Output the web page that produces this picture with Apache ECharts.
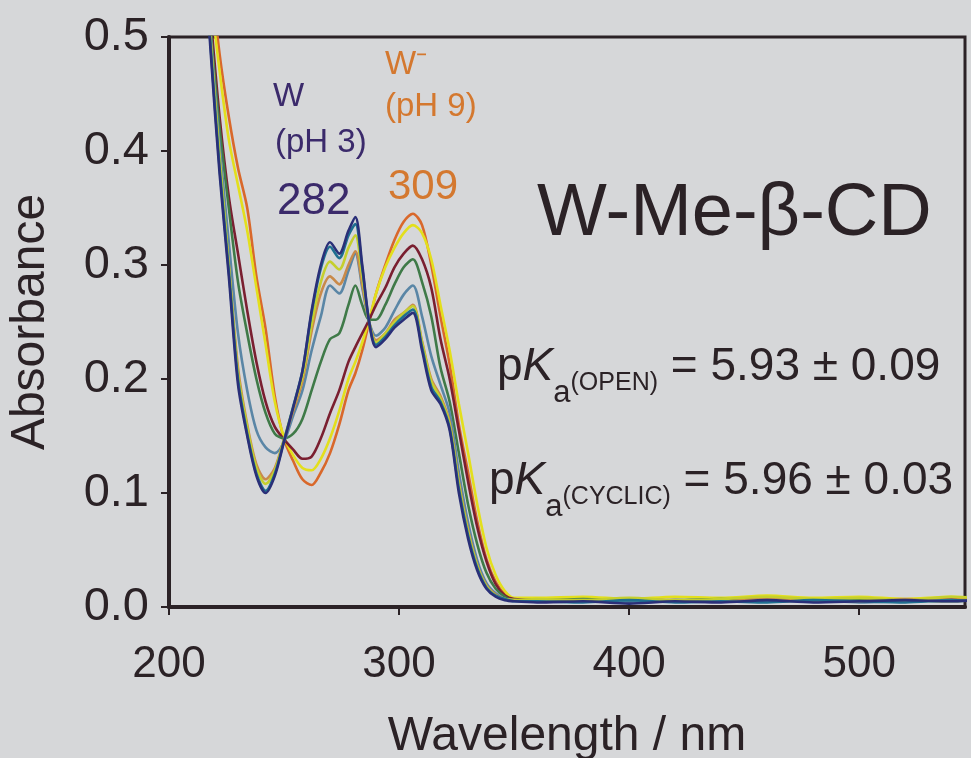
<!DOCTYPE html>
<html>
<head>
<meta charset="utf-8">
<script src="https://cdn.jsdelivr.net/npm/echarts@6/dist/echarts.min.js"></script>
<style>
  html, body { margin: 0; padding: 0; background: #d6d7d9; }
  #chart { width: 971px; height: 758px; }
</style>
</head>
<body>
<div id="chart"></div>
<script>
// wavelength grid (nm)
const wavelengths = [214, 218, 222, 226, 230, 234, 238, 242, 246, 250,
  254, 258, 262, 266, 270, 274, 278, 281, 284, 287, 290,
  294, 298, 302, 306, 310, 314, 318, 322, 326, 330,
  334, 338, 342, 346, 350,
  360, 380, 400, 420, 440, 460, 480, 500, 520, 540, 550]

// absorbance, one array per trace (acidic -> basic)
const navy = [0.62, 0.49, 0.38, 0.29, 0.195, 0.15, 0.115, 0.10, 0.115, 0.145,
  0.175, 0.207, 0.26, 0.30, 0.32, 0.31, 0.33, 0.342, 0.30, 0.25, 0.228,
  0.235, 0.245, 0.252, 0.258, 0.225, 0.19, 0.178, 0.155, 0.10, 0.06,
  0.032, 0.016, 0.009, 0.006, 0.005,
  0.004, 0.005, 0.003, 0.005, 0.004, 0.006, 0.004, 0.005, 0.006, 0.005, 0.006]
const teal = [0.62, 0.495, 0.385, 0.295, 0.2, 0.152, 0.117, 0.102, 0.117, 0.146,
  0.176, 0.207, 0.258, 0.297, 0.316, 0.306, 0.326, 0.336, 0.297, 0.25, 0.23,
  0.237, 0.247, 0.255, 0.261, 0.228, 0.193, 0.18, 0.157, 0.104, 0.063,
  0.034, 0.017, 0.01, 0.007, 0.005,
  0.005, 0.004, 0.006, 0.004, 0.005, 0.004, 0.006, 0.005, 0.004, 0.006, 0.005]
const yellowLow = [0.625, 0.50, 0.395, 0.30, 0.205, 0.158, 0.122, 0.108, 0.12, 0.147,
  0.175, 0.202, 0.248, 0.285, 0.303, 0.296, 0.315, 0.326, 0.29, 0.25, 0.232,
  0.24, 0.25, 0.258, 0.264, 0.232, 0.198, 0.183, 0.16, 0.108, 0.066,
  0.036, 0.018, 0.01, 0.007, 0.006,
  0.007, 0.006, 0.008, 0.006, 0.007, 0.009, 0.007, 0.008, 0.006, 0.009, 0.008]
const tanLow = [0.625, 0.50, 0.39, 0.30, 0.21, 0.16, 0.125, 0.112, 0.122, 0.147,
  0.172, 0.198, 0.242, 0.275, 0.29, 0.283, 0.30, 0.312, 0.283, 0.25, 0.234,
  0.24, 0.252, 0.258, 0.265, 0.233, 0.2, 0.185, 0.162, 0.11, 0.068,
  0.037, 0.019, 0.011, 0.007, 0.006,
  0.006, 0.005, 0.007, 0.006, 0.005, 0.007, 0.006, 0.005, 0.007, 0.006, 0.007]
const steel = [0.62, 0.505, 0.405, 0.32, 0.24, 0.19, 0.155, 0.14, 0.135, 0.145,
  0.168, 0.19, 0.225, 0.255, 0.282, 0.275, 0.295, 0.31, 0.28, 0.25, 0.238,
  0.245, 0.26, 0.274, 0.282, 0.255, 0.22, 0.195, 0.17, 0.118, 0.074,
  0.041, 0.021, 0.012, 0.007, 0.006,
  0.005, 0.006, 0.004, 0.006, 0.005, 0.005, 0.006, 0.004, 0.005, 0.006, 0.005]
const green = [0.62, 0.51, 0.42, 0.35, 0.285, 0.24, 0.2, 0.17, 0.152, 0.148,
  0.152, 0.165, 0.19, 0.215, 0.235, 0.24, 0.265, 0.282, 0.265, 0.252, 0.252,
  0.265, 0.283, 0.298, 0.305, 0.285, 0.255, 0.21, 0.18, 0.135, 0.09,
  0.055, 0.03, 0.016, 0.009, 0.006,
  0.006, 0.007, 0.005, 0.006, 0.007, 0.005, 0.006, 0.007, 0.006, 0.005, 0.006]
const maroon = [0.62, 0.52, 0.43, 0.36, 0.31, 0.26, 0.215, 0.18, 0.158, 0.147,
  0.138, 0.13, 0.132, 0.148, 0.17, 0.19, 0.215, 0.228, 0.24, 0.252, 0.265,
  0.28, 0.298, 0.31, 0.317, 0.305, 0.28, 0.235, 0.2, 0.155, 0.11,
  0.07, 0.04, 0.02, 0.01, 0.007,
  0.006, 0.005, 0.007, 0.005, 0.006, 0.006, 0.005, 0.007, 0.005, 0.006, 0.005]
const yellowHigh = [0.64, 0.54, 0.47, 0.41, 0.37, 0.33, 0.28, 0.23, 0.18, 0.149,
  0.133, 0.122, 0.12, 0.13, 0.148, 0.172, 0.20, 0.215, 0.232, 0.252, 0.275,
  0.298, 0.315, 0.328, 0.335, 0.328, 0.305, 0.265, 0.225, 0.178, 0.135,
  0.09, 0.052, 0.028, 0.014, 0.008,
  0.008, 0.009, 0.007, 0.009, 0.008, 0.01, 0.008, 0.009, 0.007, 0.009, 0.008]
const orangeHigh = [0.65, 0.56, 0.485, 0.43, 0.385, 0.35, 0.29, 0.244, 0.185, 0.147,
  0.128, 0.112, 0.107, 0.118, 0.135, 0.16, 0.19, 0.205, 0.225, 0.25, 0.275,
  0.30, 0.322, 0.338, 0.345, 0.335, 0.30, 0.255, 0.213, 0.16, 0.118,
  0.075, 0.042, 0.022, 0.011, 0.007,
  0.006, 0.007, 0.006, 0.005, 0.007, 0.006, 0.007, 0.006, 0.005, 0.007, 0.006]

const traces = [
  { name: 'pH 9', values: orangeHigh, color: '#d9682b' },
  { name: 'pH 8', values: yellowHigh, color: '#e3df1c' },
  { name: 'pH 7', values: maroon, color: '#7a1f30' },
  { name: 'pH 6', values: green, color: '#3f7a48' },
  { name: 'pH 5', values: steel, color: '#5a86a6' },
  { name: 'pH 4.5', values: tanLow, color: '#c98a4a' },
  { name: 'pH 4', values: yellowLow, color: '#c5cf2e' },
  { name: 'pH 3.5', values: teal, color: '#1f6f90' },
  { name: 'pH 3', values: navy, color: '#2a2f78' },
]

const xTicks = { min: 200, max: 546, interval: 100 }
const yTicks = { min: 0, max: 0.5, interval: 0.1 }

const font = '"Liberation Sans", Arial, sans-serif'
const ink = '#2b2226'

const chart = echarts.init(document.getElementById('chart'))

const pkaRich = {
  m: { fontFamily: font, fontSize: 46, lineHeight: 52, verticalAlign: 'top', fill: ink },
  k: { fontFamily: font, fontSize: 46, lineHeight: 52, fontStyle: 'italic', verticalAlign: 'top', fill: ink },
  s: { fontFamily: font, fontSize: 31, lineHeight: 31, padding: [34, 0, 0, 0], verticalAlign: 'top', fill: ink },
  c: { fontFamily: font, fontSize: 25, lineHeight: 25, padding: [27, 0, 0, 0], verticalAlign: 'top', fill: ink },
}

const option = {
  backgroundColor: '#d6d7d9',
  animation: false,
  grid: {
    left: 169, right: 6, top: 37, bottom: 151,
    outerBoundsMode: 'none',
    containLabel: false,
    show: true, borderColor: ink, borderWidth: 3,
  },
  xAxis: {
    type: 'value',
    min: xTicks.min, max: xTicks.max, interval: xTicks.interval,
    name: 'Wavelength / nm',
    nameLocation: 'middle',
    nameGap: 106,
    nameTextStyle: { fontFamily: font, fontSize: 48, color: ink },
    axisLine: { show: true, lineStyle: { color: ink, width: 4 } },
    axisTick: { show: true, inside: false, length: 8, lineStyle: { color: ink, width: 2 } },
    axisLabel: { fontFamily: font, fontSize: 44, color: ink, margin: 36, showMaxLabel: false },
    splitLine: { show: false },
  },
  yAxis: {
    type: 'value',
    min: yTicks.min, max: yTicks.max, interval: yTicks.interval,
    name: 'Absorbance',
    nameLocation: 'middle',
    nameGap: 114,
    nameRotate: 90,
    nameTextStyle: { fontFamily: font, fontSize: 48, color: ink },
    axisLine: { show: true, lineStyle: { color: ink, width: 4 } },
    axisTick: { show: true, inside: false, length: 8, lineStyle: { color: ink, width: 2 } },
    axisLabel: {
      fontFamily: font, fontSize: 47, color: ink, margin: 20,
      formatter: v => v.toFixed(1),
    },
    splitLine: { show: false },
  },
  series: traces.map(t => ({
    name: t.name,
    type: 'line',
    data: wavelengths.map((w, i) => [w, t.values[i]]),
    smooth: 0.3,
    showSymbol: false,
    clip: true,
    lineStyle: { color: t.color, width: 2.6 },
    itemStyle: { color: t.color },
  })),
  graphic: [
    { type: 'text', left: 273, top: 80, style: { text: 'W', font: '33px ' + font, fill: '#3b2a6b' } },
    { type: 'text', left: 275, top: 126, style: { text: '(pH 3)', font: '33px ' + font, fill: '#3b2a6b' } },
    { type: 'text', left: 277, top: 180, style: { text: '282', font: '44px ' + font, fill: '#3b2a6b' } },
    { type: 'text', left: 385, top: 48, style: { text: 'W\u207B', font: '33px ' + font, fill: '#d4782f' } },
    { type: 'text', left: 385, top: 90, style: { text: '(pH 9)', font: '33px ' + font, fill: '#d4782f' } },
    { type: 'text', left: 388, top: 166, style: { text: '309', font: '42px ' + font, fill: '#d4782f' } },
    { type: 'text', left: 537, top: 178, style: { text: 'W-Me-\u03B2-CD', font: '74px ' + font, fill: ink } },
    {
      type: 'text', left: 497, top: 344,
      style: { text: '{m|p}{k|K}{s|a}{c|(OPEN)}{m| = 5.93 \u00B1 0.09}', rich: pkaRich },
    },
    {
      type: 'text', left: 489, top: 458,
      style: { text: '{m|p}{k|K}{s|a}{c|(CYCLIC)}{m| = 5.96 \u00B1 0.03}', rich: pkaRich },
    },
  ],
}

chart.setOption(option)
</script>
</body>
</html>
